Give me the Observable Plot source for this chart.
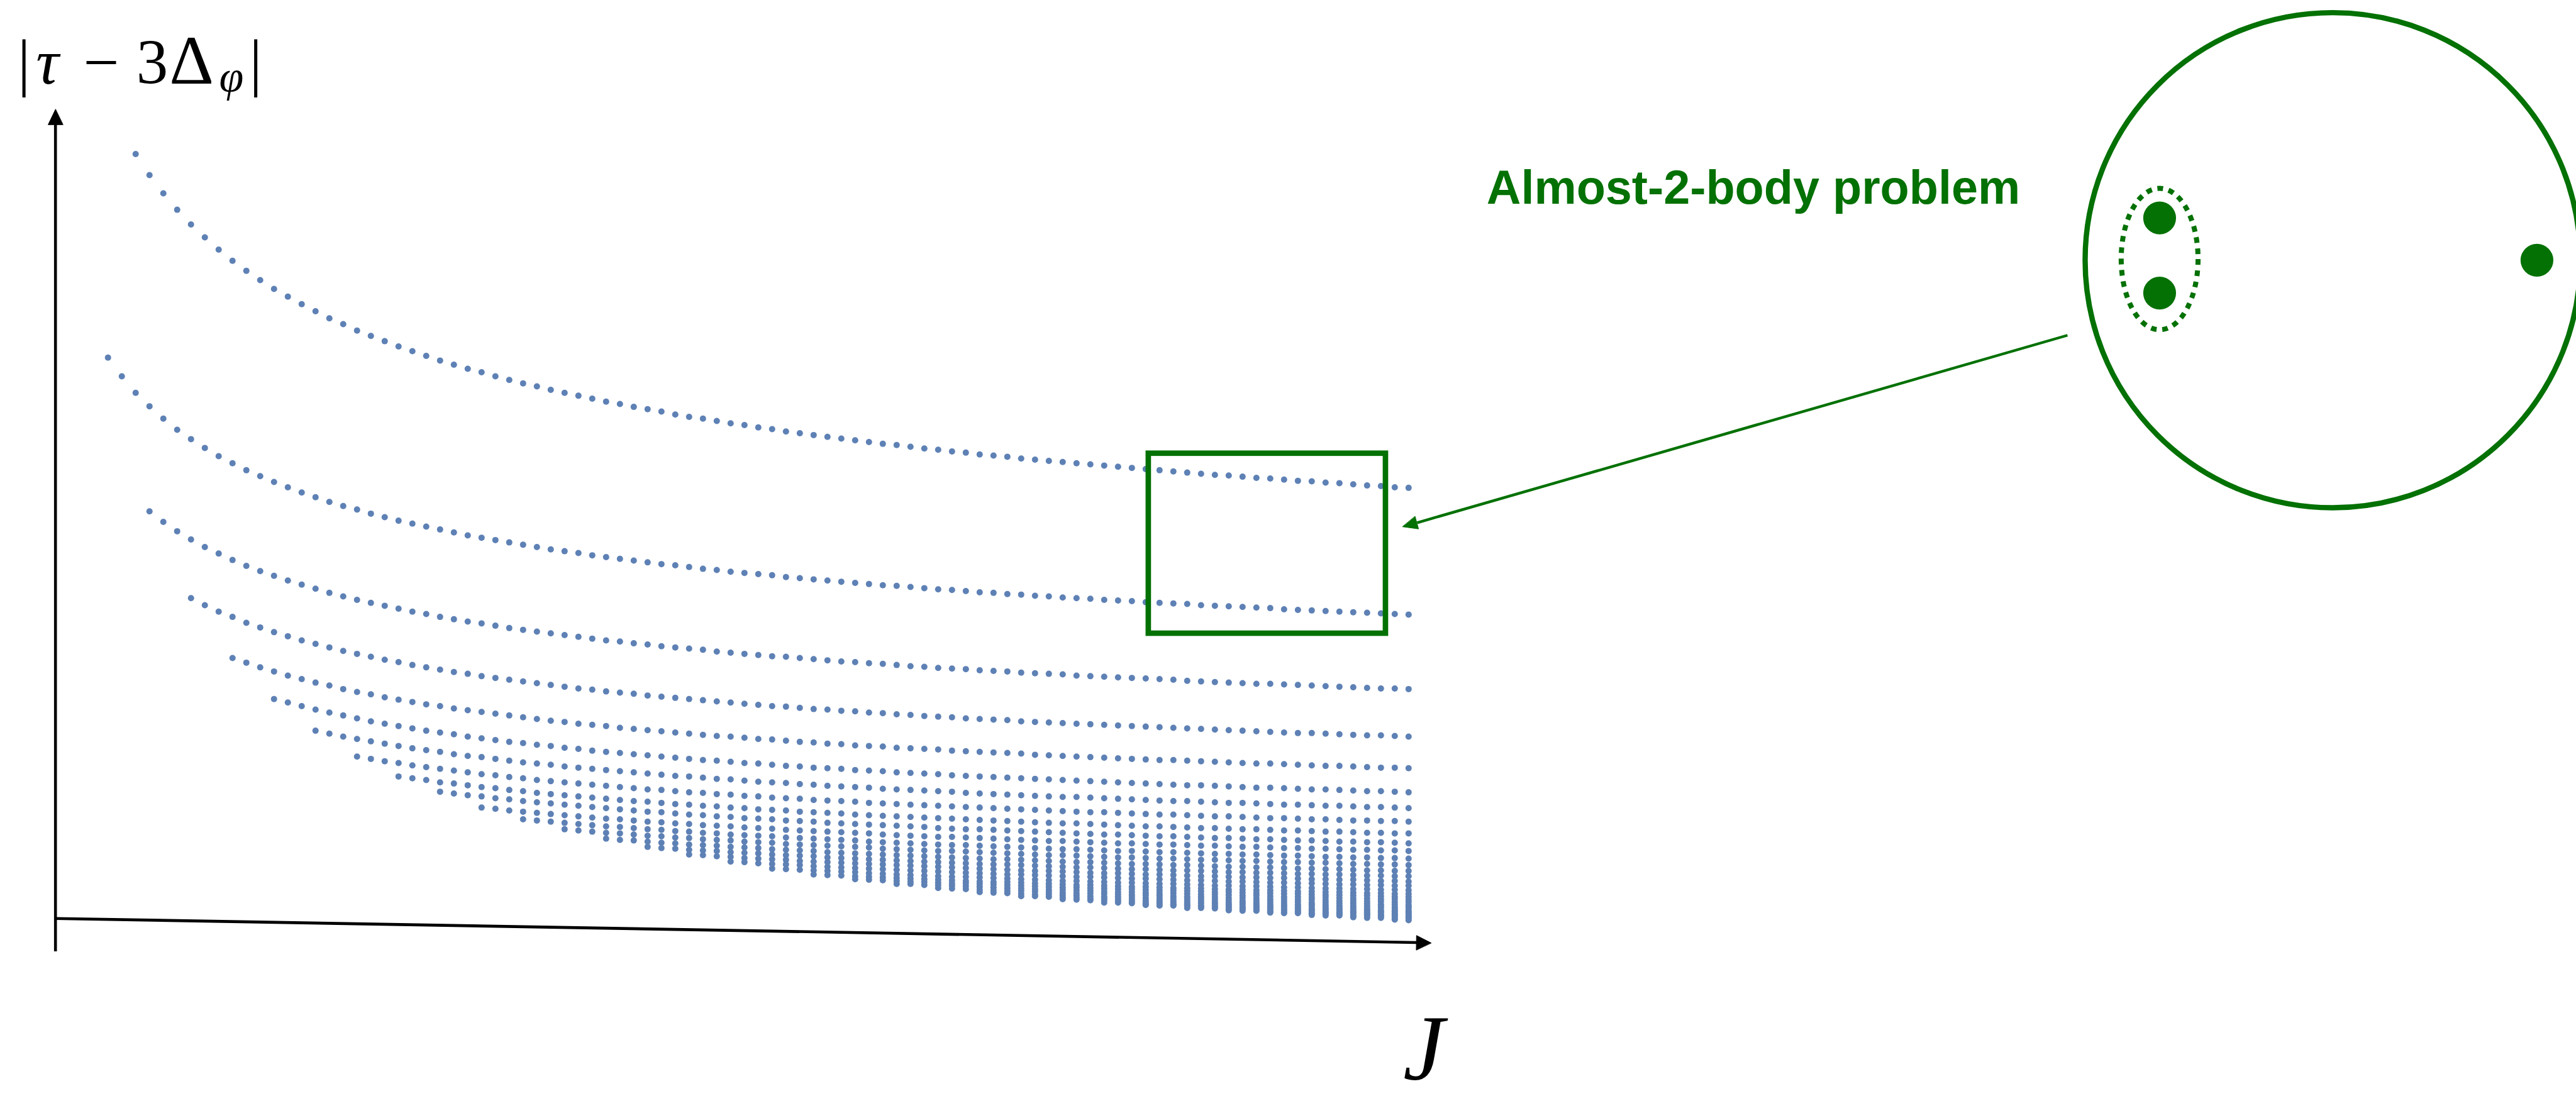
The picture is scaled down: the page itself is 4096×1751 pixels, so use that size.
<!DOCTYPE html>
<html>
<head>
<meta charset="utf-8">
<script src="https://cdn.jsdelivr.net/npm/d3@7"></script>
<script src="https://cdn.jsdelivr.net/npm/@observablehq/plot@0.6"></script>
<style>
html, body { margin: 0; padding: 0; background: #fff; }
#chart svg { display: block; }
</style>
</head>
<body>
<div id="chart"></div>
<script>
// Gap |tau - 3 Delta_phi| (arbitrary units) of each trajectory, one value per spin J, starting at startSpin[k]
const traj1 = [1378,1342,1311,1283,1258,1236,1215,1196,1179,1163,1148,1135,1122,1110,1098,1088,1077,1068,1059,1050,1042,1034,1026,1019,1012,1006,999,993,987,982,976,971,966,961,956,952,947,943,939,934,930,927,923,919,916,912,909,905,902,899,896,893,890,887,884,882,879,876,874,871,869,866,864,862,859,857,855,853,851,849,847,845,843,841,839,837,835,833,831,830,828,826,825,823,821,820,818,817,815,813,812,810,809];
const traj2 = [1031,999,971,948,927,908,892,877,863,851,839,829,819,810,801,793,785,778,772,765,759,753,748,743,738,733,728,724,720,716,712,708,704,701,698,694,691,688,685,682,679,677,674,671,669,666,664,662,660,657,655,653,651,649,647,645,643,642,640,638,636,635,633,631,630,628,627,625,624,622,621,620,618,617,616,614,613,612,611,609,608,607,606,605,604,602,601,600,599,598,597,596,595,594,593];
const traj3 = [769,751,735,721,708,697,686,676,667,659,651,644,637,630,624,618,613,608,603,598,594,589,585,581,578,574,570,567,564,561,558,555,552,549,547,544,542,539,537,535,533,530,528,526,524,522,521,519,517,515,513,512,510,509,507,505,504,502,501,500,498,497,496,494,493,492,491,489,488,487,486,485,484,483,482,480,479,478,477,476,475,475,474,473,472,471,470,469,468,467,467,466];
const traj4 = [621,609,598,589,579,571,563,556,549,543,537,531,526,521,516,512,507,503,499,495,492,488,485,482,479,476,473,470,467,465,462,460,458,455,453,451,449,447,445,443,441,439,437,436,434,432,431,429,428,426,425,423,422,420,419,418,416,415,414,413,411,410,409,408,407,406,405,404,403,402,401,400,399,398,397,396,395,394,393,392,391,391,390,389,388,387,387,386,385];
const traj5 = [519,511,503,496,489,483,477,472,466,461,457,452,448,444,440,437,433,430,427,424,421,418,415,412,410,407,405,403,400,398,396,394,392,390,388,386,385,383,381,380,378,376,375,373,372,370,369,368,366,365,364,363,361,360,359,358,357,356,354,353,352,351,350,349,348,347,346,345,345,344,343,342,341,340,339,339,338,337,336,335,335,334,333,332,332,331];
const traj6 = [449,443,437,431,426,421,416,411,407,403,399,395,392,389,385,382,379,376,374,371,369,366,364,361,359,357,355,353,351,349,347,345,344,342,340,339,337,335,334,332,331,330,328,327,326,324,323,322,321,319,318,317,316,315,314,313,312,311,310,309,308,307,306,305,304,303,302,302,301,300,299,298,298,297,296,295,295,294,293,292,292,291,290];
const traj7 = [395,390,385,381,377,373,369,365,362,359,355,352,350,347,344,341,339,337,334,332,330,328,326,324,322,320,318,317,315,313,312,310,308,307,306,304,303,301,300,299,298,296,295,294,293,292,291,289,288,287,286,285,284,283,282,282,281,280,279,278,277,276,275,275,274,273,272,272,271,270,269,269,268,267,267,266,265,265,264,263];
const traj8 = [351,347,343,340,336,333,330,327,324,321,319,316,314,311,309,307,305,303,301,299,297,295,294,292,290,289,287,286,284,283,281,280,279,277,276,275,274,272,271,270,269,268,267,266,265,264,263,262,261,260,259,258,257,256,256,255,254,253,252,252,251,250,249,249,248,247,246,246,245,244,244,243,242,242,241,241,240];
const traj9 = [317,314,311,307,305,302,299,297,294,292,289,287,285,283,281,279,277,275,274,272,270,269,267,266,264,263,261,260,259,257,256,255,254,252,251,250,249,248,247,246,245,244,243,242,241,240,239,238,237,237,236,235,234,233,232,232,231,230,229,229,228,227,227,226,225,225,224,223,223,222,221,221,220,220];
const traj10 = [291,288,285,283,280,278,275,273,271,269,267,265,263,261,259,257,256,254,252,251,249,248,246,245,244,242,241,240,238,237,236,235,234,233,232,231,229,228,227,227,226,225,224,223,222,221,220,219,218,218,217,216,215,215,214,213,212,212,211,210,210,209,208,208,207,206,206,205,205,204,203];
const traj11 = [264,262,259,257,255,253,251,249,247,245,244,242,240,239,237,236,234,233,232,230,229,228,226,225,224,223,222,221,220,218,217,216,215,214,214,213,212,211,210,209,208,207,207,206,205,204,203,203,202,201,201,200,199,199,198,197,197,196,195,195,194,194,193,192,192,191,191,190];
const traj12 = [244,242,240,238,236,234,232,231,229,227,226,224,223,221,220,218,217,216,215,213,212,211,210,209,208,206,205,204,203,202,201,200,200,199,198,197,196,195,194,193,193,192,191,190,190,189,188,188,187,186,185,185,184,184,183,182,182,181,180,180,179,179,178,178,177];
const traj13 = [227,225,223,221,220,218,216,215,213,212,210,209,208,206,205,204,202,201,200,199,198,197,196,194,193,192,191,190,190,189,188,187,186,185,184,183,183,182,181,180,179,179,178,177,177,176,175,175,174,173,173,172,171,171,170,170,169,168,168,167,167,166];
const traj14 = [211,209,208,206,204,203,201,200,199,197,196,195,193,192,191,190,188,187,186,185,184,183,182,181,180,179,178,177,176,176,175,174,173,172,171,171,170,169,168,168,167,166,166,165,164,163,163,162,162,161,160,160,159,159,158,157,157,156,156];
const traj15 = [197,195,194,192,191,190,188,187,186,184,183,182,181,179,178,177,176,175,174,173,172,171,170,169,168,167,167,166,165,164,163,162,162,161,160,159,159,158,157,157,156,155,154,154,153,153,152,151,151,150,150,149,148,148,147,147];
const traj16 = [184,183,181,180,178,177,176,175,173,172,171,170,169,168,167,166,165,164,163,162,161,160,159,158,157,156,156,155,154,153,152,152,151,150,150,149,148,147,147,146,145,145,144,144,143,142,142,141,141,140,139,139,138];
const traj17 = [172,171,169,168,167,166,164,163,162,161,160,159,158,157,156,155,154,153,152,151,150,150,149,148,147,146,146,145,144,143,143,142,141,140,140,139,138,138,137,136,136,135,135,134,133,133,132,132,131,131];
const traj18 = [160,159,158,157,156,155,154,152,151,150,149,148,147,146,146,145,144,143,142,141,140,139,139,138,137,136,136,135,134,134,133,132,131,131,130,130,129,128,128,127,126,126,125,125,124,124,123];
const traj19 = [150,149,148,147,146,145,144,143,142,141,140,139,138,137,137,136,135,134,133,132,132,131,130,129,129,128,127,127,126,125,124,124,123,123,122,121,121,120,120,119,118,118,117,117];
const traj20 = [142,141,140,139,138,137,136,135,135,134,133,132,131,130,129,128,128,127,126,125,125,124,123,123,122,121,120,120,119,118,118,117,117,116,115,115,114,114,113,112,112];
const traj21 = [134,134,132,132,131,130,129,128,127,126,125,124,124,123,122,121,120,120,119,118,118,117,116,116,115,114,114,113,112,112,111,111,110,109,109,108,108,107];
const traj22 = [127,126,125,124,123,122,122,121,120,119,118,118,117,116,115,115,114,113,112,112,111,110,110,109,108,108,107,107,106,105,105,104,104,103,103];
const traj23 = [120,119,118,117,116,116,115,114,113,112,112,111,110,110,109,108,108,107,106,105,105,104,104,103,102,102,101,101,100,99,99,98];
const traj24 = [113,113,112,111,110,109,109,108,107,106,106,105,104,104,103,102,102,101,100,100,99,99,98,97,97,96,96,95,95];
const traj25 = [108,107,106,106,105,104,103,103,102,101,101,100,99,99,98,97,97,96,96,95,94,94,93,93,92,92];
const traj26 = [102,102,101,100,100,99,98,97,97,96,95,95,94,94,93,92,92,91,91,90,89,89,88];
const traj27 = [98,97,97,96,95,94,94,93,93,92,91,91,90,90,89,88,88,87,87,86];
const traj28 = [93,93,92,91,91,90,89,89,88,88,87,86,86,85,85,84,84];
const traj29 = [89,88,88,87,86,86,85,85,84,84,83,82,82,81];
const traj30 = [85,84,84,83,83,82,81,81,80,80,79];
const traj31 = [81,80,80,79,79,78,78,77];
const traj32 = [77,76,76,75,75];
const traj33 = [73,72];

// First spin J of each trajectory (same order as traj1..traj33)
const startSpin = [10, 8, 11, 14, 17, 20, 23, 26, 29, 32, 35, 38, 41, 44, 47, 50, 53, 56, 59, 62, 65, 68, 71, 74, 77, 80, 83, 86, 89, 92, 95, 98, 101];

// Text
const yLabelText = "|τ − 3Δφ|";
const xLabelText = "J";
const titleText = "Almost-2-body problem";

// Annotation anchors, in the chart's own units (J, gap)
const yAxisLine = [{J: 4.2045, gap: 19}, {J: 4.2045, gap: 1430}];
const yAxisHead = [{J: 4.2045, gap: 1454}, {J: 3.674, gap: 1428}, {J: 4.735, gap: 1428}];
const xAxisLine = [{J: 4.2045, gap: 75}, {J: 102.62, gap: 34}];
const xAxisHead = [{J: 103.624, gap: 33.3}, {J: 102.572, gap: 46}, {J: 102.555, gap: 21.4}];
const zoomBox = [{J1: 83.21, J2: 100.35, gap1: 560.7, gap2: 867.5}];
const pointerLine = [{J: 149.62, gap: 1069}, {J: 102.62, gap: 749.6}];
const pointerHead = [{J: 101.57, gap: 742.7}, {J: 102.72, gap: 739}, {J: 102.47, gap: 760.2}];
const bubble = [{J: 168.79, gap: 1197}];
const bodies = [{J: 156.28, gap: 1269}, {J: 156.28, gap: 1141}, {J: 183.55, gap: 1197}];
const pairLoop = [{J: 156.28, gap: 1199}];
const titleAnchor = [{J: 107.64, gap: 1293, text: titleText}];
const yLabelAnchor = [{J: 1.9225, gap: 1498, text: yLabelText}];
const xLabelAnchor = [{J: 103.1, gap: -199.2, text: xLabelText}];

const green = "#037103";
const dotBlue = "#5E81B5";

const trajectories = [traj1, traj2, traj3, traj4, traj5, traj6, traj7, traj8, traj9, traj10, traj11, traj12, traj13, traj14, traj15, traj16, traj17, traj18, traj19, traj20, traj21, traj22, traj23, traj24, traj25, traj26, traj27, traj28, traj29, traj30, traj31, traj32, traj33];
const rows = trajectories.flatMap((gaps, k) => gaps.map((gap, i) => ({trajectory: k + 1, J: startSpin[k] + i, gap})));

// dotted loop drawn as an elongated symbol
const loopSymbol = {
  draw(context, size) {
    const ry = Math.sqrt(size / Math.PI);
    const rx = ry * 0.5436;
    const k = 0.5523;
    context.moveTo(rx, 0);
    context.bezierCurveTo(rx, k * ry, k * rx, ry, 0, ry);
    context.bezierCurveTo(-k * rx, ry, -rx, k * ry, -rx, 0);
    context.bezierCurveTo(-rx, -k * ry, -k * rx, -ry, 0, -ry);
    context.bezierCurveTo(k * rx, -ry, rx, -k * ry, rx, 0);
    context.closePath();
  }
};

const svg = Plot.plot({
  width: 4096,
  height: 1751,
  margin: 0,
  x: {domain: [0, 200], range: [-4.796, 4395.3], axis: null},
  y: {domain: [0, 1640], range: [1530.17, 0], axis: null},
  style: {background: "#fff", overflow: "hidden"},
  marks: [
    Plot.dot(rows, {x: "J", y: "gap", r: 5, fill: dotBlue}),
    Plot.line(yAxisLine, {x: "J", y: "gap", stroke: "#000", strokeWidth: 4.6, strokeLinecap: "butt"}),
    Plot.line(yAxisHead, {x: "J", y: "gap", fill: "#000", stroke: "#000", strokeWidth: 1, curve: "linear-closed"}),
    Plot.line(xAxisLine, {x: "J", y: "gap", stroke: "#000", strokeWidth: 4.6, strokeLinecap: "butt"}),
    Plot.line(xAxisHead, {x: "J", y: "gap", fill: "#000", stroke: "#000", strokeWidth: 1, curve: "linear-closed"}),
    Plot.rect(zoomBox, {x1: "J1", x2: "J2", y1: "gap1", y2: "gap2", fill: "none", stroke: green, strokeWidth: 8.7}),
    Plot.line(pointerLine, {x: "J", y: "gap", stroke: green, strokeWidth: 4.4, strokeLinecap: "butt"}),
    Plot.line(pointerHead, {x: "J", y: "gap", fill: green, stroke: green, strokeWidth: 1, curve: "linear-closed"}),
    Plot.dot(bubble, {x: "J", y: "gap", r: 393.7, fill: "none", stroke: green, strokeWidth: 8.4}),
    Plot.dot(bodies, {x: "J", y: "gap", r: 26.1, fill: green}),
    Plot.dot(pairLoop, {x: "J", y: "gap", r: 112.4, symbol: loopSymbol, fill: "none", stroke: green, strokeWidth: 8, strokeDasharray: "9,9"}),
    Plot.text(titleAnchor, {x: "J", y: "gap", text: "text", fill: green, fontFamily: "Liberation Sans, Arial, Helvetica, sans-serif", fontWeight: "bold", fontSize: 75.6, textAnchor: "start", lineAnchor: "bottom"}),
    Plot.text(yLabelAnchor, {x: "J", y: "gap", text: "text", fill: "#000", fontFamily: "Liberation Serif, DejaVu Serif, serif", fontSize: 101, textAnchor: "middle", lineAnchor: "bottom"}),
    Plot.text(xLabelAnchor, {x: "J", y: "gap", text: "text", fill: "#000", fontFamily: "Liberation Serif, DejaVu Serif, serif", fontStyle: "italic", fontSize: 148, textAnchor: "middle", lineAnchor: "bottom"})
  ]
});
document.getElementById("chart").append(svg);

// typeset the y label: each glyph centred where the reference shows it; italic tau, subscript italic phi
d3.select(svg).selectAll("text").filter(function () { return this.textContent === yLabelText; }).each(function () {
  const t = d3.select(this).attr("text-anchor", "middle");
  t.text(null);
  t.append("tspan").attr("x", 0).text("|");
  t.append("tspan").attr("x", 37.4).attr("font-style", "italic").text("τ");
  t.append("tspan").attr("x", 123).text("−");
  t.append("tspan").attr("x", 204).text("3");
  t.append("tspan").attr("x", 266.7).attr("font-size", 110).text("Δ");
  t.append("tspan").attr("x", 330).attr("font-style", "italic").attr("font-size", 70).attr("dy", 12.5).text("φ");
  t.append("tspan").attr("x", 368.6).attr("dy", -12.5).text("|");
});
</script>
</body>
</html>
